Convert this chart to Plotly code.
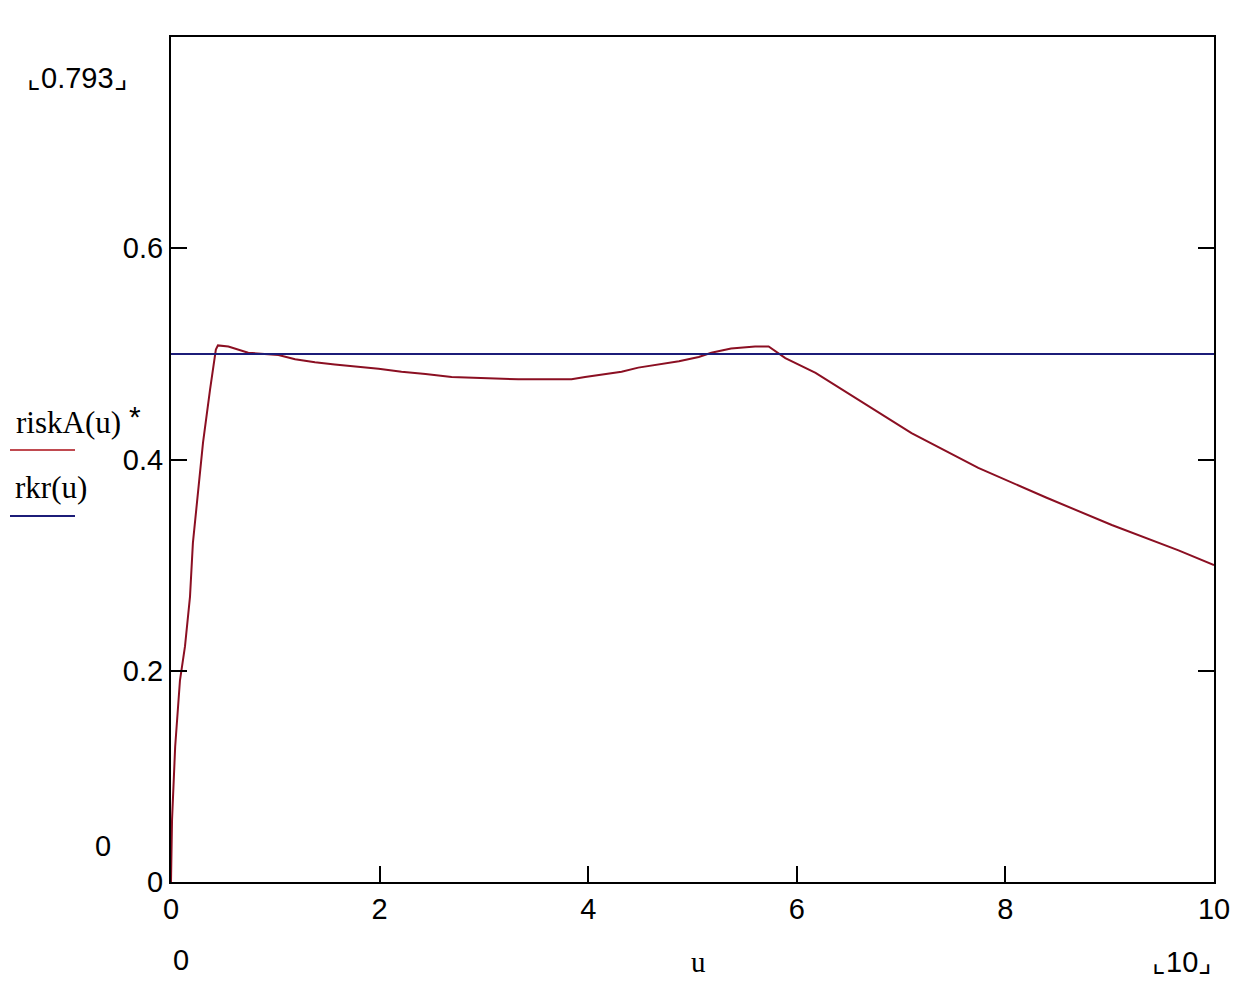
import plotly.graph_objects as go

# Data
u_risk = [0, 0.01, 0.04, 0.086, 0.134, 0.182, 0.21, 0.26, 0.307, 0.374, 0.43, 0.45,
          0.55, 0.74, 1.03, 1.19, 1.38, 1.57, 1.77, 1.99, 2.21, 2.44, 2.69, 3.0, 3.33,
          3.6, 3.84, 3.97, 4.17, 4.32, 4.48, 4.67, 4.87, 5.06, 5.18, 5.37, 5.60, 5.73,
          5.80, 5.89, 6.18, 6.47, 7.10, 7.74, 8.39, 9.02, 9.66, 10.0]
riskA = [0, 0.059, 0.128, 0.191, 0.223, 0.270, 0.321, 0.371, 0.416, 0.466, 0.504, 0.508,
         0.507, 0.501, 0.499, 0.495, 0.492, 0.490, 0.488, 0.486, 0.483, 0.481, 0.478, 0.477,
         0.476, 0.476, 0.476, 0.478, 0.481, 0.483, 0.487, 0.490, 0.493, 0.497, 0.501, 0.505,
         0.507, 0.507, 0.502, 0.496, 0.482, 0.464, 0.425, 0.392, 0.364, 0.338, 0.314, 0.300]
u_rkr = [0, 10]
rkr = [0.5, 0.5]

x_ticks = [0, 2, 4, 6, 8, 10]
y_ticks = [0, 0.2, 0.4, 0.6]
y_ticktext = ["0", "0.2", "0.4", "0.6"]

RED = "#8b0f22"
BLUE = "#1c1c78"
OFF = 8                      # page body margin
W, H = 1257 - OFF, 1000 - OFF
L, R, T, B = 171, 1214, 37, 882   # plot area in screen pixels


def px(x):
    return (x - L) / (R - L)


def py(y):
    return (B - y) / (B - T)


fig = go.Figure()
fig.add_trace(go.Scatter(x=u_risk, y=riskA, mode="lines",
                         line=dict(color=RED, width=2), showlegend=False))
fig.add_trace(go.Scatter(x=u_rkr, y=rkr, mode="lines",
                         line=dict(color=BLUE, width=2), showlegend=False))

tickfont = dict(family="Liberation Sans, Arial, sans-serif", size=29, color="black")
fig.update_xaxes(range=[0, 10], tickvals=x_ticks, ticktext=[str(v) for v in x_ticks],
                 ticks="inside", ticklen=16, tickwidth=2, tickcolor="black",
                 showline=True, linecolor="black", linewidth=2, mirror=True,
                 showgrid=False, zeroline=False, tickfont=tickfont)
fig.update_yaxes(range=[0, 0.8], tickvals=y_ticks, ticktext=y_ticktext,
                 ticks="inside", ticklen=16, tickwidth=2, tickcolor="black",
                 showline=True, linecolor="black", linewidth=2, mirror="ticks",
                 showgrid=False, zeroline=False, tickfont=tickfont)

ann = []
sans = dict(family="Liberation Sans, Arial, sans-serif", size=29, color="black")
serif = dict(family="Liberation Serif, Times New Roman, serif", size=31, color="black")
ann.append(dict(x=px(77), y=py(78), text="⌞0.793⌟", font=sans))
ann.append(dict(x=px(103), y=py(846), text="0", font=sans))
ann.append(dict(x=px(181), y=py(960), text="0", font=sans))
ann.append(dict(x=px(698), y=py(962), text="u", font=dict(family="Liberation Serif, serif", size=29, color="black")))
ann.append(dict(x=px(1182), y=py(962), text="⌞10⌟", font=sans))
ann.append(dict(x=px(68), y=py(422), text="riskA(u)", font=serif))
ann.append(dict(x=px(135), y=py(416), text="*", font=dict(family="Liberation Sans, sans-serif", size=30, color="black")))
ann.append(dict(x=px(51), y=py(487), text="rkr(u)", font=serif))
for a in ann:
    a.update(xref="paper", yref="paper", showarrow=False, xanchor="center", yanchor="middle")

shapes = [
    dict(type="line", xref="paper", yref="paper", x0=px(10), x1=px(75), y0=py(450), y1=py(450),
         line=dict(color="#c04a50", width=2)),
    dict(type="line", xref="paper", yref="paper", x0=px(10), x1=px(75), y0=py(516), y1=py(516),
         line=dict(color=BLUE, width=2)),
]

fig.update_layout(width=W, height=H,
                  margin=dict(l=L - OFF, r=W - (R - OFF), t=T - OFF, b=H - (B - OFF)),
                  plot_bgcolor="white", paper_bgcolor="white",
                  annotations=ann, shapes=shapes)

fig.write_html("out.html")
